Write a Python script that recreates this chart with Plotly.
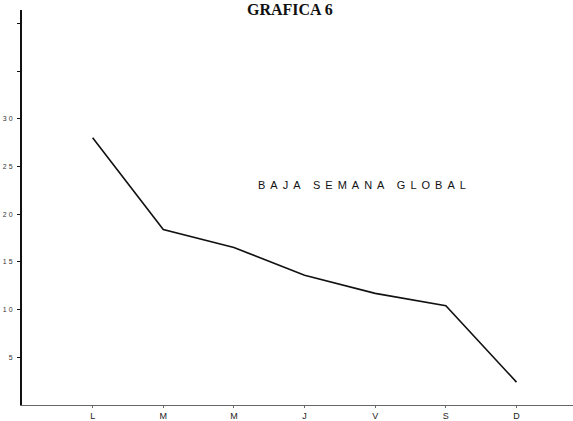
import plotly.graph_objects as go

days = ["L", "M", "M", "J", "V", "S", "D"]
bajas = [28.0, 18.4, 16.5, 13.6, 11.7, 10.4, 2.4]
y_ticks = [5, 10, 15, 20, 25, 30, 35, 40]
y_tick_labels = ["5", "10", "15", "20", "25", "30", "", ""]

xpos = list(range(len(days)))

fig = go.Figure()
fig.add_trace(go.Scatter(
    x=xpos, y=bajas, mode="lines",
    line=dict(color="#111", width=1.6),
    showlegend=False, hoverinfo="skip",
))

fig.update_layout(
    width=573, height=421,
    margin=dict(l=22, r=0, t=10, b=16, autoexpand=False),
    paper_bgcolor="white", plot_bgcolor="white",
    font=dict(family="Liberation Sans, Arial, sans-serif", color="#111"),
    xaxis=dict(
        range=[-1.0, 6.8], tickvals=xpos, ticktext=days,
        showgrid=False, zeroline=False, automargin=False,
        showline=True, linecolor="#666", linewidth=1,
        ticks="outside", ticklen=2, tickcolor="#666",
        ticklabelstandoff=0,
        tickfont=dict(size=9, color="#222"),
    ),
    yaxis=dict(
        range=[0, 41.4], tickvals=y_ticks,
        ticktext=['<span style="letter-spacing:2px">%s</span>' % t for t in y_tick_labels],
        showgrid=False, zeroline=False, automargin=False,
        showline=True, linecolor="#111", linewidth=2,
        ticks="outside", ticklen=3, tickcolor="#111",
        ticklabelstandoff=1,
        tickfont=dict(size=7, color="#333"),
    ),
    annotations=[
        dict(text="<b>GRAFICA 6</b>", xref="paper", yref="paper",
             x=0.486, y=1.0, yshift=1, xanchor="center", yanchor="middle",
             showarrow=False,
             font=dict(family="Liberation Serif, Times New Roman, serif", size=16, color="#111")),
        dict(text='<span style="letter-spacing:5px">BAJA SEMANA GLOBAL</span>',
             xref="x", yref="y", x=3.85, y=23.1,
             xanchor="center", yanchor="middle", showarrow=False,
             font=dict(size=11, color="#111")),
    ],
)

fig.write_html("out.html", config={"displayModeBar": False},
               post_script="document.body.style.margin='0';")
